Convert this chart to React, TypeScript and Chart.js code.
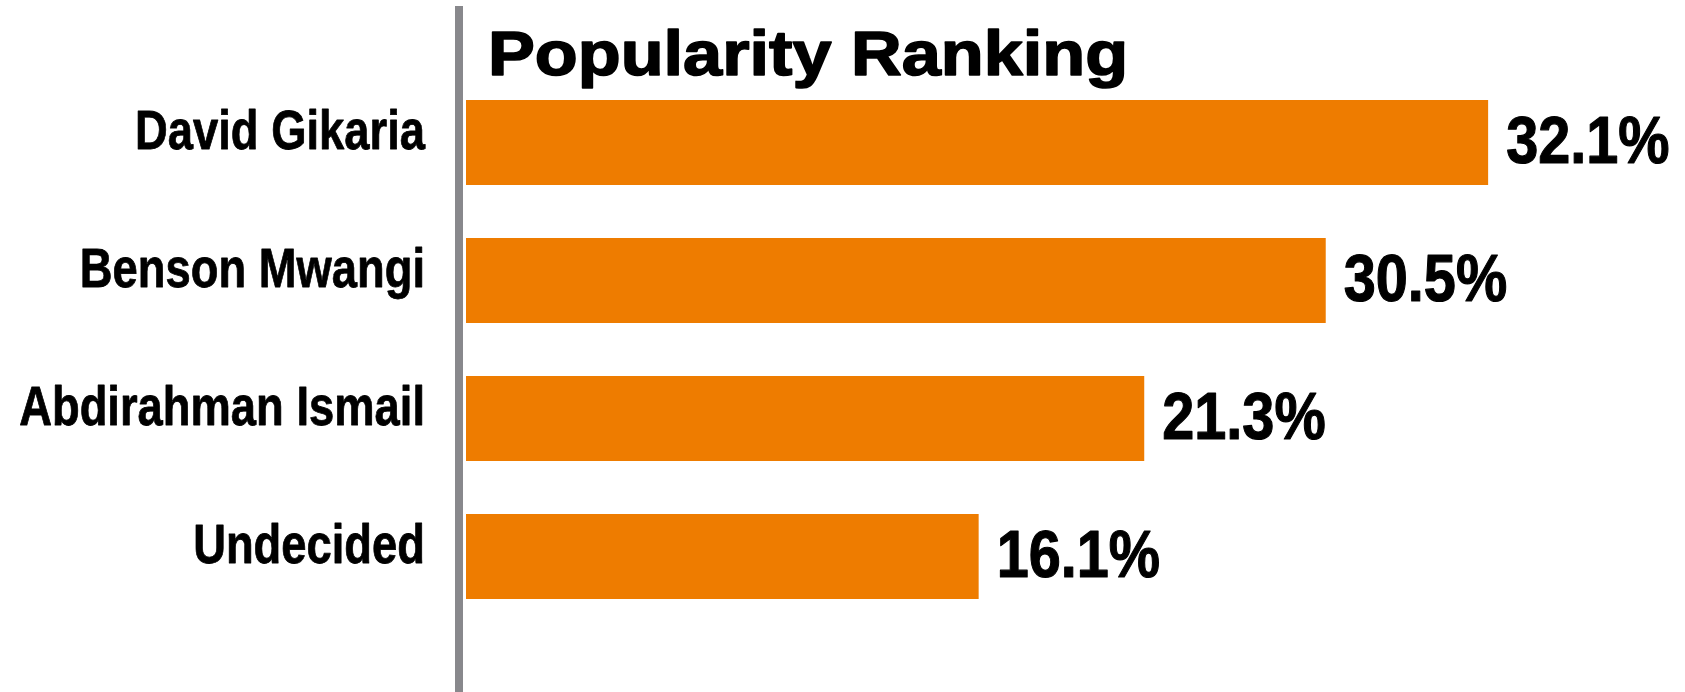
import React, { useEffect, useRef } from "react";
import { Chart, registerables } from "chart.js";

Chart.register(...registerables);

const categories = ["David Gikaria", "Benson Mwangi", "Abdirahman Ismail", "Undecided"];
// bar lengths as drawn in the picture (value axis, percent)
const barLengths = [32.1, 27.0, 21.3, 16.1];
// value labels as printed next to the bars
const valueLabels = ["32.1%", "30.5%", "21.3%", "16.1%"];
const chartTitle = "Popularity Ranking";

const SANS = "'Liberation Sans', Arial, Helvetica, sans-serif";

const decorPlugin = {
  id: "decor",
  afterDraw(chart: any) {
    const { ctx, scales } = chart;
    const x0 = scales.x.getPixelForValue(0);

    // vertical separator
    ctx.save();
    ctx.fillStyle = "#88888c";
    ctx.fillRect(x0 - 11, 6, 8, chart.height - 6);
    ctx.restore();

    // title
    ctx.save();
    ctx.fillStyle = "#000000";
    ctx.strokeStyle = "#000000";
    ctx.lineWidth = 1.6;
    ctx.lineJoin = "round";
    ctx.font = `bold 63px ${SANS}`;
    ctx.textBaseline = "alphabetic";
    ctx.textAlign = "left";
    ctx.translate(x0 + 22, 75);
    ctx.scale(1.115, 1);
    ctx.fillText(chartTitle, 0, 0);
    ctx.strokeText(chartTitle, 0, 0);
    ctx.restore();

    // category labels (positioned from the category scale)
    const yScale = scales.y;
    ctx.save();
    ctx.fillStyle = "#000000";
    ctx.strokeStyle = "#000000";
    ctx.lineWidth = 0.8;
    ctx.lineJoin = "round";
    ctx.font = `bold 56px ${SANS}`;
    ctx.textBaseline = "alphabetic";
    ctx.textAlign = "right";
    categories.forEach((c, i) => {
      const y = yScale.getPixelForValue(i);
      ctx.save();
      ctx.translate(x0 - 41, y + 6.5);
      ctx.scale(0.81, 1);
      ctx.fillText(c, 0, 0);
      ctx.strokeText(c, 0, 0);
      ctx.restore();
    });
    ctx.restore();

    // value labels
    const meta = chart.getDatasetMeta(0);
    ctx.save();
    ctx.font = `bold 67px ${SANS}`;
    ctx.fillStyle = "#000000";
    ctx.strokeStyle = "#000000";
    ctx.lineWidth = 1.2;
    ctx.lineJoin = "round";
    ctx.textBaseline = "alphabetic";
    ctx.textAlign = "left";
    meta.data.forEach((bar: any, i: number) => {
      ctx.save();
      ctx.translate(bar.x + 18, bar.y + 20);
      ctx.scale(0.86, 1);
      ctx.fillText(valueLabels[i], 0, 0);
      ctx.strokeText(valueLabels[i], 0, 0);
      ctx.restore();
    });
    ctx.restore();
  },
};

export default function App() {
  const ref = useRef<HTMLCanvasElement | null>(null);
  useEffect(() => {
    if (!ref.current) return;
    const chart = new Chart(ref.current, {
      type: "bar",
      data: {
        labels: categories,
        datasets: [
          {
            data: barLengths,
            backgroundColor: "#EE7C00",
            borderWidth: 0,
            barPercentage: 0.616,
            categoryPercentage: 1,
          },
        ],
      },
      options: {
        indexAxis: "y",
        animation: false,
        responsive: true,
        maintainAspectRatio: false,
        layout: { padding: { top: 73.5, bottom: 66.5, right: 9, left: 0 } },
        plugins: {
          legend: { display: false },
          tooltip: { enabled: false },
          title: { display: false },
        },
        scales: {
          x: {
            display: false,
            min: 0,
            max: 38,
          },
          y: {
            grid: { display: false, drawTicks: false },
            border: { display: false },
            ticks: { display: false },
            afterFit: (scale: any) => {
              scale.width = 466;
            },
          },
        },
      },
      plugins: [decorPlugin],
    });
    return () => chart.destroy();
  }, []);
  return (
    <div style={{ position: "fixed", left: 0, top: 0, width: "100vw", height: "100vh", background: "#ffffff" }}>
      <canvas ref={ref} />
    </div>
  );
}
